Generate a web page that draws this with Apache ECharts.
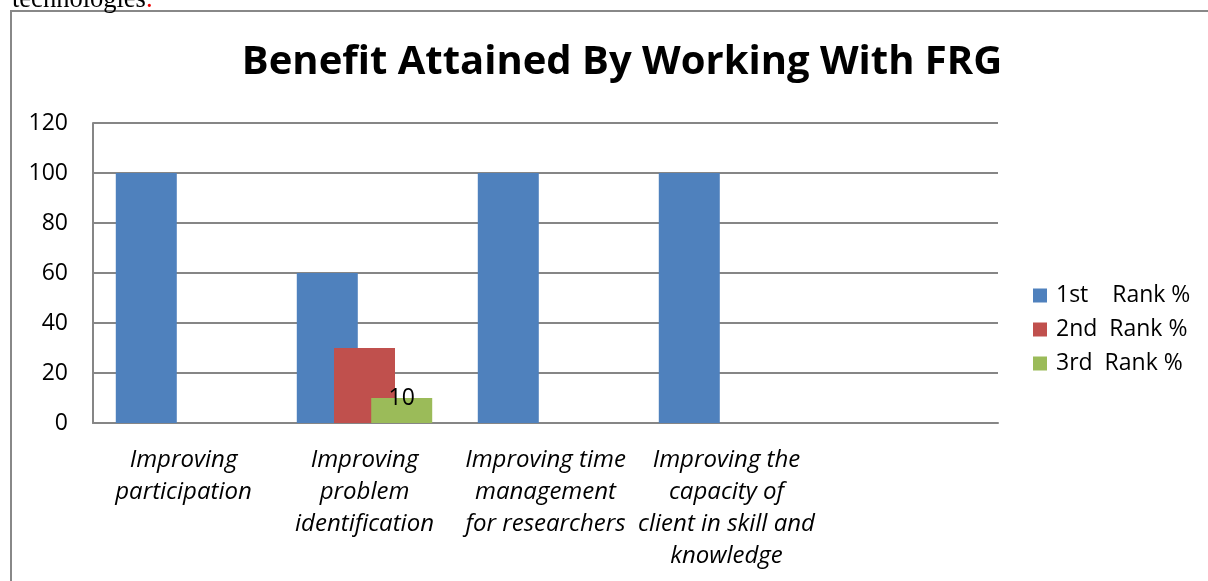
<!DOCTYPE html>
<html><head><meta charset="utf-8">
<script src="https://cdn.jsdelivr.net/npm/echarts@6/dist/echarts.min.js"></script>
<style>html,body{margin:0;padding:0;background:#fff}#c{width:1208px;height:581px}</style>
</head><body><div id="c"></div>
<script>
const categories = ['Improving\nparticipation','Improving\nproblem\nidentification','Improving time\nmanagement\nfor researchers','Improving the\ncapacity of\nclient in skill and\nknowledge',''];
const seriesNames = ['1st    Rank %','2nd  Rank %','3rd  Rank %'];
const rank1 = [100, 60, 100, 100, null];
const rank2 = [null, 30, null, null, null];
const rank3 = [null, 10, null, null, null];
const yTicks = {min:0, max:120, interval:20};
const colors = ['#4F81BD','#C0504D','#9BBB59'];
const FONT = 'Open Sans';
const chart = echarts.init(document.getElementById('c'));
chart.setOption({
  animation:false,
  backgroundColor:'#fff',
  graphic:[
    {type:'rect', shape:{x:11,y:11,width:1230,height:600}, style:{fill:'none', stroke:'#888', lineWidth:2}, z:-1},
    {type:'text', x:12, y:14, style:{text:'{a|technologies}{b|.}', textVerticalAlign:'bottom',
      rich:{a:{fill:'#000', fontFamily:'Liberation Serif', fontSize:26.5}, b:{fill:'#e00', fontFamily:'Liberation Serif', fontSize:26.5}}}}
  ],
  title:{text:'Benefit Attained By Working With FRG', left:617, top:38, textAlign:'center',
    textStyle:{fontFamily:FONT, fontWeight:'bold', fontSize:40, color:'#000'}},
  legend:{orient:'vertical', left:1028, top:279, itemWidth:14, itemHeight:14, itemGap:11, icon:'rect',
    textStyle:{fontFamily:FONT, fontSize:23, color:'#000', padding:[0,0,0,4]}},
  grid:{left:93, right:210, top:123, bottom:158},
  xAxis:{type:'category', data:categories,
    axisLine:{lineStyle:{color:'#868686', width:2}}, axisTick:{show:false},
    axisLabel:{interval:0, margin:21, fontFamily:FONT, fontStyle:'italic', fontSize:24, lineHeight:32, color:'#000'}},
  yAxis:{type:'value', min:yTicks.min, max:yTicks.max, interval:yTicks.interval,
    axisLine:{show:true, lineStyle:{color:'#868686', width:2}}, axisTick:{show:false},
    splitLine:{lineStyle:{color:'#868686', width:2}},
    axisLabel:{margin:25, fontFamily:FONT, fontSize:23, color:'#000'}},
  series:[
    {name:seriesNames[0], type:'bar', data:rank1, barWidth:61, barGap:'-39%', itemStyle:{color:colors[0]}},
    {name:seriesNames[1], type:'bar', data:rank2, barWidth:61, barGap:'-39%', itemStyle:{color:colors[1]}},
    {name:seriesNames[2], type:'bar', data:rank3, barWidth:61, barGap:'-39%', itemStyle:{color:colors[2]},
      label:{show:true, position:'top', distance:-12, fontFamily:FONT, fontSize:23, color:'#000'}}
  ]
});
</script></body></html>
